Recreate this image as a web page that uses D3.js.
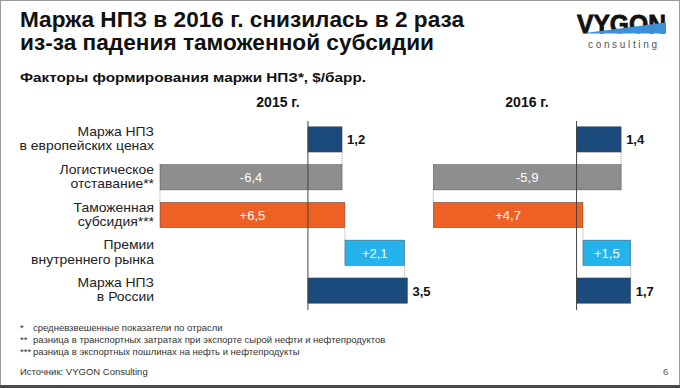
<!DOCTYPE html>
<html>
<head>
<meta charset="utf-8">
<script src="https://cdn.jsdelivr.net/npm/d3@7"></script>
<style>
  body { margin: 0; background: #fff; }
  svg { display: block; font-family: "Liberation Sans", Arial, sans-serif; }
</style>
</head>
<body>
<svg width="680" height="388"></svg>
<script>
// categories (two-line labels)
var categories = [
  ["Маржа НПЗ", "в европейских ценах"],
  ["Логистическое", "отставание**"],
  ["Таможенная", "субсидия***"],
  ["Премии", "внутреннего рынка"],
  ["Маржа НПЗ", "в России"]
];
var kinds = ["total", "step", "step", "step", "total"];
var barColors = ["#1b4a7c", "#8e8e8e", "#ef6024", "#24b3ea", "#1b4a7c"];

var values2015 = [1.2, -6.4, 6.5, 2.1, 3.5];
var values2016 = [1.4, -5.9, 4.7, 1.5, 1.7];
var years = ["2015 г.", "2016 г."];

var footnotes = [
  ["*", "средневзвешенные показатели по отрасли"],
  ["**", "разница в транспортных затратах при экспорте сырой нефти и нефтепродуктов"],
  ["***", "разница в экспортных пошлинах на нефть и нефтепродукты"]
];

var svg = d3.select('svg');

// frame
svg.append('rect').attr('x', 0.5).attr('y', 0.5).attr('width', 679).attr('height', 385)
  .attr('fill', 'none').attr('stroke', '#9a9a9a')
svg.append('rect').attr('x', 0).attr('y', 385).attr('width', 680).attr('height', 3)
  .attr('fill', '#4a4a4a')

// titles
svg.append('text').attr('x', 20).attr('y', 27)
  .attr('font-size', 22).attr('font-weight', 'bold').attr('fill', '#111')
  .attr('textLength', 444).attr('lengthAdjust', 'spacingAndGlyphs')
  .text('Маржа НПЗ в 2016 г. снизилась в 2 раза')
svg.append('text').attr('x', 20).attr('y', 50)
  .attr('font-size', 22).attr('font-weight', 'bold').attr('fill', '#111')
  .attr('textLength', 414).attr('lengthAdjust', 'spacingAndGlyphs')
  .text('из-за падения таможенной субсидии')
svg.append('text').attr('x', 20).attr('y', 82)
  .attr('font-size', 13).attr('font-weight', 'bold').attr('fill', '#111')
  .attr('textLength', 346).attr('lengthAdjust', 'spacingAndGlyphs')
  .text('Факторы формирования маржи НПЗ*, $/барр.')

// logo
var logo = svg.append('g')
logo.append('text').attr('x', 577).attr('y', 33)
  .attr('font-size', 25).attr('font-weight', 'bold').attr('fill', '#111')
  .attr('stroke', '#111').attr('stroke-width', 0.8)
  .attr('textLength', 89).attr('lengthAdjust', 'spacingAndGlyphs')
  .text('VYGON')
logo.append('path').attr('d', 'M581,33.5 L666,33.5 L666,22.5 Z').attr('fill', '#3d8fd6')
logo.append('text').attr('x', 588).attr('y', 47.5)
  .attr('font-size', 10).attr('fill', '#555')
  .attr('textLength', 69).attr('lengthAdjust', 'spacing')
  .text('consulting')

// rows
var y = d3.scaleBand()
  .domain(d3.range(categories.length))
  .range([120.5, 309.5])
  .paddingInner(0.33)
  .paddingOuter(0.165)

var labels = svg.append('g').attr('font-size', 13).attr('fill', '#222').attr('text-anchor', 'end')
categories.forEach(function(c, i) {
  var cy = y(i) + y.bandwidth() / 2
  c.forEach(function(line, j) {
    var t = labels.append('text').attr('x', 154).attr('y', cy - 3.5 + j * 14.3).text(line)
    var w = t.node().getComputedTextLength()
    t.attr('textLength', w * 1.07).attr('lengthAdjust', 'spacingAndGlyphs')
  })
})

function fmt(v, k) {
  var s = d3.format('.1f')(Math.abs(v)).replace('.', ',')
  if (k === 'total') return s
  return (v < 0 ? '-' : '+') + s
}

function waterfall(values, range, yearLabelX, yearText) {
  var run = 0
  var bars = values.map(function(v, i) {
    var b
    if (kinds[i] === 'total') { b = {from: 0, to: v}; run = v }
    else { b = {from: run, to: run + v}; run = run + v }
    b.v = v; b.i = i; b.k = kinds[i]
    return b
  })
  var ext = d3.extent(bars.reduce(function(a, b) { return a.concat([b.from, b.to]) }, []))
  var x = d3.scaleLinear().domain(ext).range(range)

  var g = svg.append('g')

  g.append('text').attr('x', yearLabelX).attr('y', 107)
    .attr('text-anchor', 'middle').attr('font-size', 14).attr('font-weight', 'bold')
    .attr('fill', '#111').text(yearText)

  // connectors
  bars.slice(0, -1).forEach(function(b, i) {
    var nb = bars[i + 1]
    var xv = nb.k === 'total' ? b.to : nb.from
    g.append('line')
      .attr('x1', x(xv)).attr('x2', x(xv))
      .attr('y1', y(i) + y.bandwidth()).attr('y2', y(i + 1))
      .attr('stroke', '#888').attr('stroke-width', 0.8).attr('stroke-dasharray', '1,1')
  })

  g.selectAll('rect.bar')
    .data(bars)
    .enter().append('rect')
      .attr('class', 'bar')
      .attr('x', b => x(Math.min(b.from, b.to)))
      .attr('width', b => Math.abs(x(b.to) - x(b.from)))
      .attr('y', b => y(b.i))
      .attr('height', y.bandwidth())
      .attr('fill', b => barColors[b.i])
      .attr('stroke', '#3c3c3c').attr('stroke-width', 0.6).attr('stroke-opacity', 0.7)

  // zero axis
  g.append('line')
    .attr('x1', x(0)).attr('x2', x(0))
    .attr('y1', 121).attr('y2', 310)
    .attr('stroke', '#444').attr('stroke-width', 1)

  g.selectAll('text.val')
    .data(bars)
    .enter().append('text')
      .attr('class', 'val')
      .attr('x', b => b.k === 'total' ? x(Math.max(b.from, b.to)) + 5 : (x(b.from) + x(b.to)) / 2)
      .attr('y', b => y(b.i) + y.bandwidth() / 2 + 5)
      .attr('text-anchor', b => b.k === 'total' ? 'start' : 'middle')
      .attr('font-size', 13)
      .attr('font-weight', b => b.k === 'total' ? 'bold' : 'normal')
      .attr('fill', b => b.k === 'total' ? '#111' : '#fff')
      .text(b => fmt(b.v, b.k))
}

waterfall(values2015, [160, 407.5], 278, years[0])
waterfall(values2016, [433.3, 630.7], 527, years[1])

// footnotes
var fn = svg.append('g').attr('font-size', 9.5).attr('fill', '#333')
footnotes.forEach(function(f, i) {
  var t = fn.append('text').attr('x', 20).attr('y', 331 + i * 12)
  t.append('tspan').text(f[0])
  t.append('tspan').attr('x', 33).text(f[1])
})

svg.append('text').attr('x', 20).attr('y', 375).attr('font-size', 9.5).attr('fill', '#333')
  .text('Источник: VYGON Consulting')
svg.append('text').attr('x', 663).attr('y', 375).attr('font-size', 9.5).attr('fill', '#555')
  .text('6')
</script>
</body>
</html>
